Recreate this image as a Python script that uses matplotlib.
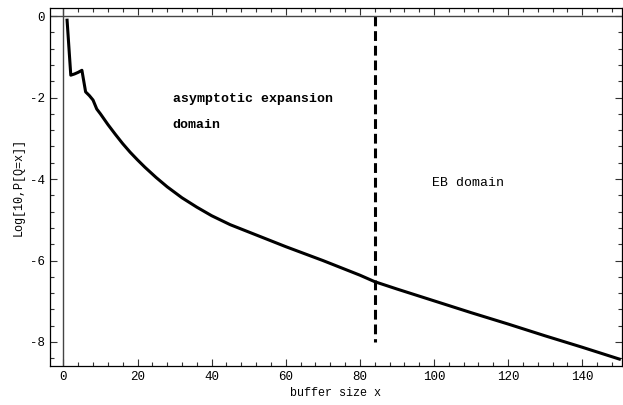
import matplotlib
matplotlib.use("Agg")
import matplotlib.pyplot as plt
from matplotlib.ticker import MultipleLocator

# buffer size vs log10 probability
buffer_x = [1, 2, 3, 4, 5, 6, 7, 8, 9, 10, 12, 14, 16, 18, 20, 22, 25, 28,
            32, 36, 40, 45, 50, 55, 60, 65, 70, 75, 80, 84, 90, 100, 110,
            120, 130, 140, 150]
log_p = [-0.1, -1.45, -1.42, -1.38, -1.33, -1.86, -1.95, -2.06, -2.28, -2.4,
         -2.66, -2.9, -3.13, -3.34, -3.53, -3.71, -3.96, -4.19, -4.46, -4.69,
         -4.9, -5.12, -5.3, -5.48, -5.66, -5.83, -6.0, -6.18, -6.36, -6.52,
         -6.7, -6.99, -7.28, -7.56, -7.85, -8.13, -8.42]

boundary_x = 84
boundary_y = [0, -8]

fig = plt.figure(figsize=(6.23, 4.05), dpi=100)
ax = fig.add_axes([0.0803, 0.0963, 0.918, 0.884])

ax.plot(buffer_x, log_p, color="black", lw=2.2)
ax.plot([boundary_x, boundary_x], boundary_y, color="black", lw=2.2,
        ls=(0, (3.2, 1.6)))
ax.axhline(0, color="#444444", lw=1)
ax.axvline(0, color="#444444", lw=1)

mono = "Liberation Mono"
ax.text(29.5, -2.04, "asymptotic expansion", family=mono, fontsize=9.5,
        fontweight="bold", va="center")
ax.text(29.5, -2.67, "domain", family=mono, fontsize=9.5,
        fontweight="bold", va="center")
ax.text(99.5, -4.1, "EB domain", family=mono, fontsize=9.5, va="center")

ax.set_xlim(-3.6, 150.7)
ax.set_ylim(-8.59, 0.2)
ax.xaxis.set_minor_locator(MultipleLocator(4))
ax.yaxis.set_minor_locator(MultipleLocator(0.4))
ax.tick_params(which="both", direction="in", top=True, right=True,
               width=0.8, colors="#333333", labelcolor="black")
ax.tick_params(which="major", length=5)
ax.tick_params(which="minor", length=3)

ax.set_xticks([0, 20, 40, 60, 80, 100, 120, 140])
ax.set_xticklabels(["0", "20", "40", "60", "80", "100", "120", "140"],
                   family=mono, fontsize=9)
ax.set_yticks([0, -2, -4, -6, -8])
ax.set_yticklabels(["0", "-2", "-4", "-6", "-8"], family=mono, fontsize=9)

ax.set_xlabel("buffer size x", family=mono, fontsize=8.5, labelpad=3)
ax.set_ylabel("Log[10,P[Q=x]]", family=mono, fontsize=8.5, labelpad=4)
for s in ax.spines.values():
    s.set_linewidth(0.9)

fig.savefig("out.png", dpi=100)
